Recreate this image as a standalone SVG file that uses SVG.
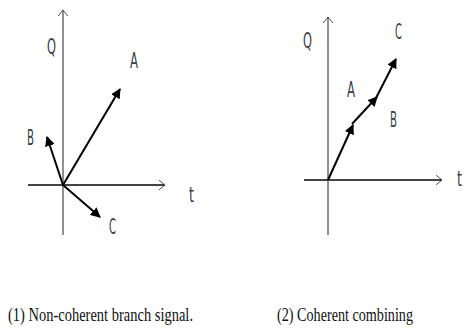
<svg xmlns="http://www.w3.org/2000/svg" width="467" height="332" viewBox="0 0 467 332">
<defs>
<marker id="ah" viewBox="0 0 10 10" refX="9" refY="5" markerWidth="5" markerHeight="5" orient="auto" markerUnits="strokeWidth">
<path d="M0,0 L10,5 L0,10 z" fill="#000"/>
</marker>
<marker id="open" viewBox="0 0 10 12" refX="9.5" refY="6" markerWidth="8" markerHeight="10" orient="auto" markerUnits="userSpaceOnUse">
<path d="M2,0 L9.5,6 L2,12" fill="none" stroke="#444" stroke-width="1.2"/>
</marker>
</defs>
<style>
.ax{stroke:#555;stroke-width:1.3;fill:none}
.axh{stroke:#444;stroke-width:2;fill:none}
.vec{stroke:#000;stroke-width:2;fill:none;marker-end:url(#ah)}
.lbl{font-family:"DejaVu Sans Condensed","Liberation Sans",sans-serif;font-size:21px;fill:#3a3f4a}
.cap{font-family:"Liberation Serif","DejaVu Serif",serif;font-size:19px;fill:#111}
</style>
<rect width="467" height="332" fill="#fff"/>
<g id="axes1">
<line class="ax" x1="63" y1="235" x2="63" y2="10" marker-end="url(#open)"/>
<line class="axh" x1="28" y1="185" x2="165" y2="185" marker-end="url(#open)"/>
</g>
<g id="axes2">
<line class="ax" x1="328" y1="235" x2="328" y2="17" marker-end="url(#open)"/>
<line class="axh" x1="304" y1="180" x2="442" y2="180" marker-end="url(#open)"/>
</g>
<g id="connectors">
<line class="vec" x1="63" y1="185" x2="120" y2="89"/>
<line class="vec" x1="63" y1="185" x2="47" y2="137"/>
<line class="vec" x1="63" y1="185" x2="100" y2="217"/>
<line class="vec" x1="328" y1="180" x2="353" y2="125"/>
<line class="vec" x1="352" y1="124" x2="377" y2="97"/>
<line class="vec" x1="376" y1="98" x2="396" y2="59"/>
</g>
<g id="labels1">
<text class="lbl" x="47" y="54" textLength="9" lengthAdjust="spacingAndGlyphs">Q</text>
<text class="lbl" x="130" y="68" textLength="8" lengthAdjust="spacingAndGlyphs">A</text>
<text class="lbl" x="27" y="145" textLength="7" lengthAdjust="spacingAndGlyphs">B</text>
<text class="lbl" x="109" y="234" textLength="7" lengthAdjust="spacingAndGlyphs">C</text>
<text class="lbl" x="189" y="202" textLength="5" lengthAdjust="spacingAndGlyphs">t</text>
</g>
<g id="labels2">
<text class="lbl" x="303" y="48" textLength="9" lengthAdjust="spacingAndGlyphs">Q</text>
<text class="lbl" x="395" y="39" textLength="7" lengthAdjust="spacingAndGlyphs">C</text>
<text class="lbl" x="347" y="97" textLength="8" lengthAdjust="spacingAndGlyphs">A</text>
<text class="lbl" x="390" y="127" textLength="7" lengthAdjust="spacingAndGlyphs">B</text>
<text class="lbl" x="457" y="186" textLength="5" lengthAdjust="spacingAndGlyphs">t</text>
</g>
<g id="captions">
<text class="cap" x="8" y="321" textLength="185" lengthAdjust="spacingAndGlyphs">(1) Non-coherent branch signal.</text>
<text class="cap" x="277" y="321" textLength="136" lengthAdjust="spacingAndGlyphs">(2) Coherent combining</text>
</g>
</svg>
